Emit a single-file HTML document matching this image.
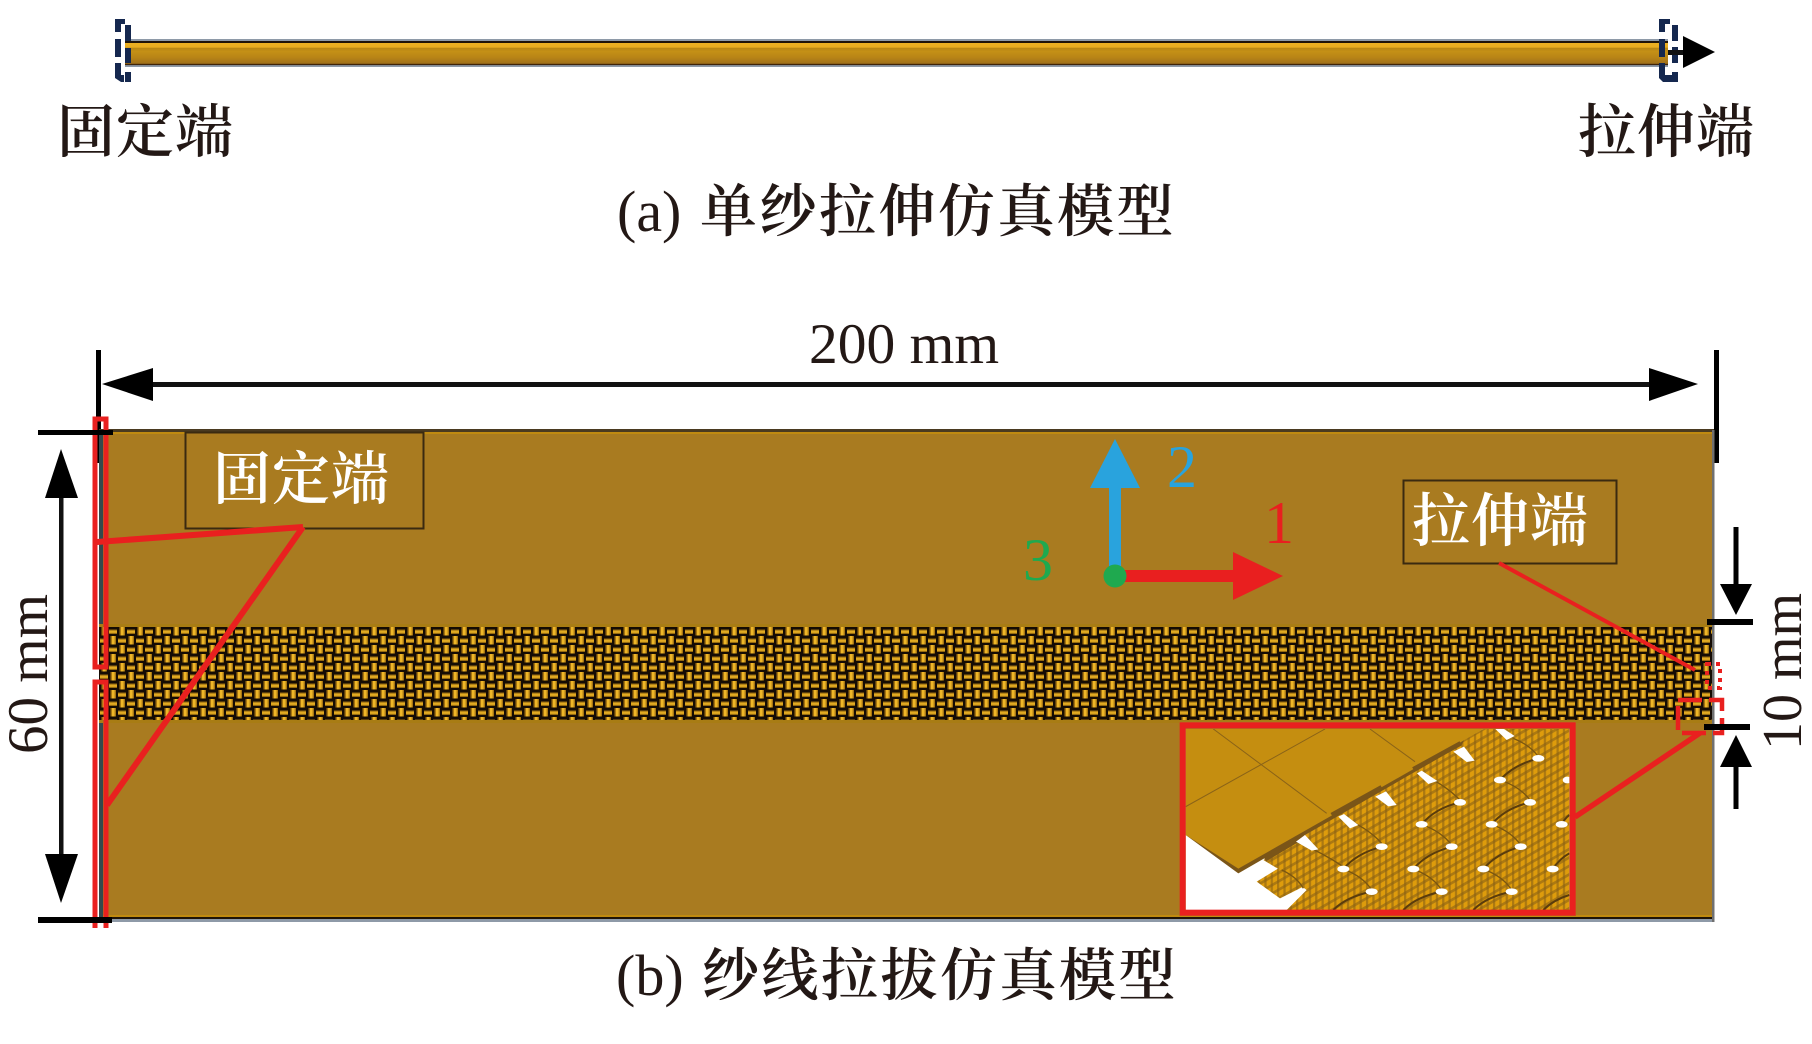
<!DOCTYPE html>
<html lang="zh"><head><meta charset="utf-8"><title>仿真模型</title>
<style>
html,body{margin:0;padding:0;background:#fff;width:1812px;height:1044px;overflow:hidden}
svg{display:block}
.cn{font-family:"Liberation Serif","Noto Serif CJK SC",serif;font-weight:600}
.en{font-family:"Liberation Serif","Noto Serif CJK SC",serif}
</style></head><body>
<svg width="1812" height="1044" viewBox="0 0 1812 1044" xmlns="http://www.w3.org/2000/svg">
<defs>
<linearGradient id="bar" x1="0" y1="0" x2="0" y2="1">
<stop offset="0" stop-color="#8e9aa8"/><stop offset=".07" stop-color="#8e9aa8"/>
<stop offset=".08" stop-color="#201408"/><stop offset=".14" stop-color="#201408"/>
<stop offset=".15" stop-color="#ecb022"/><stop offset=".3" stop-color="#e8ac20"/>
<stop offset=".32" stop-color="#b98714"/><stop offset=".45" stop-color="#c49016"/>
<stop offset=".65" stop-color="#b98516"/><stop offset=".88" stop-color="#a0701a"/>
<stop offset=".89" stop-color="#3f2408"/><stop offset=".93" stop-color="#3f2408"/>
<stop offset=".94" stop-color="#8e9aa8"/><stop offset="1" stop-color="#8e9aa8"/>
</linearGradient>
<pattern id="weave" x="99" y="627" width="18" height="18" patternUnits="userSpaceOnUse">
<rect width="18" height="18" fill="#150c04"/>
<rect x="2.5" y="0" width="5.5" height="8.5" fill="#a67512"/><rect x="4" y="0" width="2.6" height="8.5" fill="#eeb628"/>
<rect x="10" y="2.5" width="8" height="4.5" fill="#966a10"/><rect x="10" y="3.6" width="8" height="2.3" fill="#e2aa22"/>
<rect x="1" y="11.5" width="8" height="4.5" fill="#966a10"/><rect x="1" y="12.6" width="8" height="2.3" fill="#e2aa22"/>
<rect x="11.5" y="9" width="5.5" height="8.5" fill="#a67512"/><rect x="13" y="9" width="2.6" height="8.5" fill="#eeb628"/>
</pattern>
<pattern id="mesh" width="22" height="22" patternUnits="userSpaceOnUse" patternTransform="rotate(-30) skewX(-30)">
<rect width="22" height="22" fill="#de9c0c"/>
<rect width="22" height="8" fill="#8a6214" opacity=".6"/>
<rect width="8" height="22" fill="#8a6214" opacity=".6"/>
</pattern>
<clipPath id="ins"><rect x="107" y="87" width="1151" height="543"/></clipPath>
</defs>

<!-- (a) top yarn -->
<rect x="125" y="39" width="1543" height="28" fill="url(#bar)"/>
<g fill="#15284f">
<path d="M115 19h10v5h-4v8h-6zM115 39h6v18h-6zM115 63h6v12h3v7h7v-7h0v7h-10l-6-4z"/>
<rect x="125" y="25" width="6" height="16"/><rect x="125" y="48" width="6" height="15"/><rect x="125" y="72" width="6" height="10"/>
<path d="M1659 19h11v5h-5v8h-6zM1659 39h6v18h-6zM1659 63h6v12h7v7h-9l-4-4z"/>
<rect x="1672" y="25" width="6" height="16"/><rect x="1672" y="47" width="6" height="16"/><rect x="1672" y="72" width="6" height="10"/>
</g>
<rect x="1668" y="50" width="16" height="5" fill="#111"/>
<path d="M1683 36L1715 52L1683 68Z" fill="#000"/>

<text class="cn" x="57" y="152" font-size="58" letter-spacing="1" fill="#231815">固定端</text>
<text class="cn" x="1578" y="152" font-size="58" letter-spacing="1" fill="#231815">拉伸端</text>
<text class="en" x="617" y="231" font-size="58" fill="#231815">(a)</text>
<text class="cn" x="700" y="231" font-size="57" letter-spacing="2.5" fill="#231815">单纱拉伸仿真模型</text>

<!-- (b) dimensions -->
<text class="en" x="809" y="363" font-size="57.5" fill="#231815">200 mm</text>
<rect x="126" y="382" width="1547" height="5" fill="#111"/>
<path d="M102 384L153 368V401Z" fill="#000"/>
<path d="M1698 384L1649 368V401Z" fill="#000"/>
<rect x="96" y="350" width="5" height="113" fill="#000"/>
<rect x="1714" y="350" width="5" height="113" fill="#000"/>

<!-- panel -->
<rect x="99" y="430" width="1613" height="490" fill="#a97b20"/>
<rect x="99" y="429" width="1615" height="3" fill="#4a3a20"/>
<rect x="103" y="432" width="1609" height="2" fill="#c08a10"/>
<rect x="99" y="915" width="1613" height="2" fill="#c08a10"/>
<rect x="99" y="917" width="1615" height="2" fill="#201408"/>
<rect x="99" y="919" width="1615" height="3" fill="#8e9aa8"/>
<rect x="1712" y="430" width="2.5" height="492" fill="#707070"/>
<rect x="99" y="430" width="4" height="490" fill="#33494d"/>
<rect x="99" y="624" width="1613" height="3" fill="#a87c14"/>
<rect x="99" y="720" width="1613" height="3" fill="#a87c14"/>
<rect x="99" y="627" width="1613" height="93" fill="url(#weave)"/>

<!-- label boxes -->
<rect x="185.5" y="432.5" width="238" height="96" fill="#a97b20" stroke="#3a2a10" stroke-width="2"/>
<text class="cn" x="213" y="499" font-size="58" letter-spacing="1" fill="#fff">固定端</text>
<rect x="1403.5" y="480.5" width="213" height="83" fill="#a97b20" stroke="#3a2a10" stroke-width="2"/>
<text class="cn" x="1412" y="541" font-size="58" letter-spacing="1" fill="#fff">拉伸端</text>

<!-- axes -->
<rect x="1109" y="486" width="12" height="90" fill="#29a3dd"/>
<path d="M1115 439L1140 488H1090Z" fill="#29a3dd"/>
<rect x="1115" y="570" width="120" height="12" fill="#e91f1f"/>
<path d="M1233 552L1283 576L1233 600Z" fill="#e91f1f"/>
<circle cx="1115" cy="576" r="11.5" fill="#1fa94f"/>
<text class="en" x="1167" y="487" font-size="60" fill="#29a3dd">2</text>
<text class="en" x="1264" y="543" font-size="60" fill="#e91f1f">1</text>
<text class="en" x="1023" y="580" font-size="60" fill="#1fa94f">3</text>

<!-- inset -->
<g transform="translate(1150 700) scale(.33333)">
<rect x="88" y="65" width="1190" height="583" fill="#a97b20"/>
<g clip-path="url(#ins)">
<rect x="107" y="87" width="1151" height="543" fill="#fff"/>
<path d="M340 480L930 125L1000 87H1258V630H410L470 570L390 510Z" fill="url(#mesh)"/>
<path d="M320 545L385 505L460 560L390 595Z" fill="url(#mesh)"/>
<path d="M107 405L265 520L935 135L960 87H107Z" fill="#7a5518"/>
<path d="M107 87V405L265 506L935 125L1000 87Z" fill="#c58e10"/>
<g stroke="#7a5518" stroke-width="14" fill="none">
<path d="M345 478L462 408M545 345L695 262M790 208L932 130"/>
</g>
<g stroke="#8a6318" stroke-width="3" fill="none">
<path d="M190 87L530 340M525 87L107 320M660 87L795 185"/>
</g>
<g fill="none" stroke="#5a3c0c" stroke-width="6">
<path d="M580 507Q620 460 695 440M790 507Q830 460 905 440M1000 507Q1040 460 1112 440M1208 507Q1230 475 1258 460"/>
<path d="M815 373Q855 325 930 307M1025 373Q1065 325 1140 307M1235 373Q1245 355 1258 345"/>
<path d="M1050 240Q1090 195 1165 175"/>
<path d="M550 630Q590 590 665 575M760 630Q800 590 875 575M970 630Q1010 590 1085 575M1180 630Q1210 600 1258 585"/>
</g>
<g fill="none" stroke="#7a5610" stroke-width="4">
<path d="M580 507Q640 530 665 570M790 507Q850 530 875 570M1000 507Q1060 530 1085 570M815 373Q875 395 905 435M1025 373Q1085 395 1112 435M1050 240Q1110 260 1140 300M570 350Q650 380 695 430M805 218Q880 250 930 300M440 425Q520 460 580 500M395 510Q440 530 460 565M1090 115Q1140 135 1165 170"/>
</g>
<g fill="#fff">
<path d="M438 425L465 405L505 448L485 452ZM565 350L582 342L625 375L600 385ZM676 290L708 274L740 315L715 319ZM801 220L815 212L862 243L835 252ZM910 155L942 140L974 182L950 186ZM1036 87H1062L1094 108L1070 120Z"/>
<g>
<ellipse cx="665" cy="575" rx="18" ry="10"/><ellipse cx="875" cy="575" rx="18" ry="10"/><ellipse cx="1085" cy="575" rx="18" ry="10"/>
<ellipse cx="580" cy="507" rx="18" ry="10"/><ellipse cx="790" cy="507" rx="18" ry="10"/><ellipse cx="1000" cy="507" rx="18" ry="10"/><ellipse cx="1208" cy="507" rx="18" ry="10"/>
<ellipse cx="695" cy="440" rx="18" ry="10"/><ellipse cx="905" cy="440" rx="18" ry="10"/><ellipse cx="1112" cy="440" rx="18" ry="10"/>
<ellipse cx="815" cy="373" rx="18" ry="10"/><ellipse cx="1025" cy="373" rx="18" ry="10"/><ellipse cx="1235" cy="373" rx="18" ry="10"/>
<ellipse cx="930" cy="307" rx="18" ry="10"/><ellipse cx="1140" cy="307" rx="18" ry="10"/>
<ellipse cx="1050" cy="240" rx="18" ry="10"/><ellipse cx="1252" cy="240" rx="14" ry="10"/>
<ellipse cx="1165" cy="175" rx="18" ry="10"/>
</g>
</g>
</g>
<rect x="98" y="76" width="1170" height="562" fill="none" stroke="#e9201f" stroke-width="18"/>
</g>

<!-- red connectors -->
<g fill="none" stroke="#e9201f">
<rect x="95" y="419" width="11" height="248" stroke-width="5"/>
<path d="M95 928V682H106V928" stroke-width="5"/>
<path d="M97 542L303 527" stroke-width="6"/>
<path d="M303 527L107 805" stroke-width="6"/>
<path d="M1499 563L1695 670" stroke-width="4"/>
<path d="M1575 817L1700 733" stroke-width="5.5"/>
<rect x="1707" y="664" width="13" height="24" stroke-width="4" stroke-dasharray="4 5"/>
<rect x="1678" y="700" width="44" height="33" stroke-width="4.5" stroke-dasharray="24 7"/>
</g>

<!-- side dimensions -->
<rect x="38" y="430" width="75" height="5" fill="#000"/>
<rect x="38" y="917" width="74" height="6" fill="#000"/>
<rect x="59" y="496" width="4.5" height="360" fill="#111"/>
<path d="M61 449L78 498H45Z" fill="#000"/>
<path d="M61 903L78 854H45Z" fill="#000"/>
<text class="en" transform="translate(47 754) rotate(-90)" font-size="57" fill="#231815">60 mm</text>

<rect x="1733.5" y="527" width="5" height="58" fill="#000"/>
<path d="M1720 584H1752L1736 615Z" fill="#000"/>
<rect x="1707" y="619" width="46" height="6" fill="#000"/>
<rect x="1704" y="724" width="46" height="6" fill="#000"/>
<path d="M1720 767H1752L1736 735Z" fill="#000"/>
<rect x="1733.5" y="766" width="5" height="43" fill="#000"/>
<text class="en" transform="translate(1801 750) rotate(-90)" font-size="56" fill="#231815">10 mm</text>

<text class="en" x="616" y="995" font-size="58" fill="#231815">(b)</text>
<text class="cn" x="702" y="995" font-size="57" letter-spacing="2.5" fill="#231815">纱线拉拔仿真模型</text>
</svg>
</body></html>
